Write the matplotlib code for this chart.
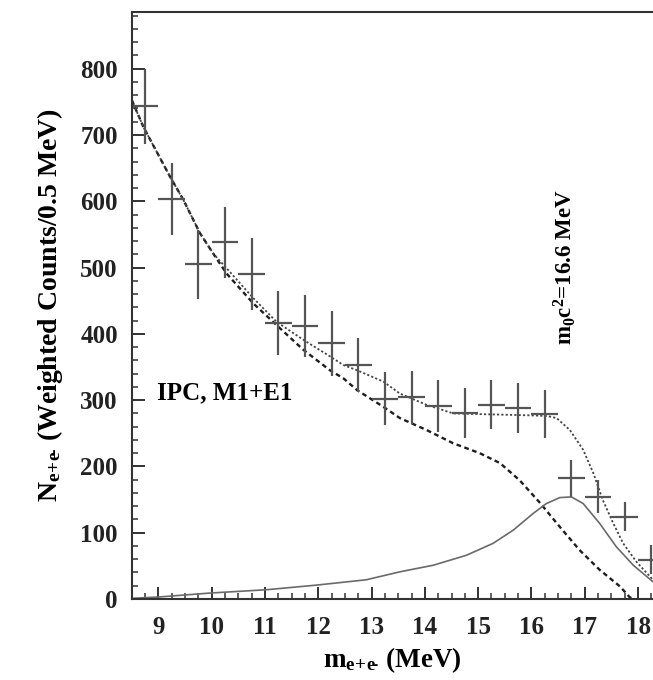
import numpy as np
import matplotlib
matplotlib.use('Agg')
import matplotlib.pyplot as plt
from matplotlib.ticker import MultipleLocator

plt.rcParams['font.family'] = ['Liberation Serif', 'DejaVu Serif']
plt.rcParams['font.weight'] = 'bold'
plt.rcParams['axes.labelweight'] = 'bold'
plt.rcParams['mathtext.fontset'] = 'custom'
plt.rcParams['mathtext.rm'] = 'Liberation Serif:bold'
plt.rcParams['mathtext.it'] = 'Liberation Serif:bold'
plt.rcParams['mathtext.bf'] = 'Liberation Serif:bold'

# data points (bin centres, weighted counts, errors)
m_bins = [8.75, 9.25, 9.75, 10.25, 10.75, 11.25, 11.75, 12.25, 12.75, 13.25,
          13.75, 14.25, 14.75, 15.25, 15.75, 16.25, 16.75, 17.25, 17.75, 18.25]
counts = [743, 603, 505, 538, 490, 416, 412, 386, 353, 302,
          304, 291, 281, 293, 288, 279, 182, 154, 124, 59]
errors = [56, 54, 52, 53, 54, 48, 47, 49, 40, 40,
          40, 39, 38, 37, 38, 36, 28, 25, 22, 22]

# IPC background (dashed)
ipc_x = [8.5, 8.72, 9.22, 9.47, 9.78, 10.03, 10.28, 10.78, 11.22, 11.72, 12.22,
         12.47, 12.73, 13.22, 13.53, 14.03, 14.53, 15.03, 15.41, 15.78, 16.16,
         16.53, 16.9, 17.28, 17.66, 17.84, 17.9]
ipc_y = [753, 712, 637, 602, 552, 521, 491, 446, 413, 376, 345,
         333, 315, 290, 273, 255, 235, 220, 205, 179, 145,
         109, 74, 44, 19, 3, 0]

# total fit IPC + boson (dotted)
tot_x = [8.5, 8.72, 9.22, 9.47, 9.78, 10.03, 10.28, 10.78, 11.22, 11.72, 12.22,
         12.47, 12.73, 13.22, 13.53, 14.03, 14.53, 15.0, 15.5, 16.0, 16.3,
         16.47, 16.72, 16.97, 17.16, 17.34, 17.53, 17.72, 17.97, 18.28]
tot_y = [753, 712, 637, 602, 552, 521, 499, 454, 418, 391, 366,
         353, 345, 328, 310, 293, 280, 279, 278, 277, 276,
         273, 255, 225, 190, 149, 115, 84, 56, 29]

# boson contribution (solid)
sig_x = [8.5, 9.0, 9.97, 11.03, 11.97, 12.9, 13.53, 14.16, 14.78, 15.28, 15.66,
         16.03, 16.28, 16.53, 16.75, 16.97, 17.28, 17.59, 17.91, 18.28]
sig_y = [1, 3, 9, 14, 21, 29, 41, 51, 66, 84, 104,
         129, 144, 153, 154, 144, 114, 79, 51, 26]

fig = plt.figure(figsize=(6.53, 6.8), dpi=100)
ax = fig.add_axes([0.2017, 0.1191, 0.7983, 0.8637])

ax.plot(ipc_x, ipc_y, color='#1e1e1e', lw=1.7, ls=(0, (2.0, 1.5)))
ax.plot(tot_x, tot_y, color='#444444', lw=1.3, ls=(0, (1.2, 1.2)))
ax.plot(sig_x, sig_y, color='#6a6a6a', lw=1.2, ls='-')
ax.errorbar(m_bins, counts, yerr=errors, xerr=0.25, fmt='none',
            ecolor='#555555', elinewidth=1.6, capsize=0)

ax.set_xlim(8.5, 18.28)
ax.set_ylim(0, 886)
ax.xaxis.set_major_locator(MultipleLocator(1))
ax.xaxis.set_minor_locator(MultipleLocator(0.25))
ax.yaxis.set_major_locator(MultipleLocator(100))
ax.yaxis.set_minor_locator(MultipleLocator(20))
ax.tick_params(which='major', direction='in', length=9, width=1.3,
               labelsize=18, colors='#222222', pad=10)
ax.tick_params(which='minor', direction='in', length=4.5, width=1.1, colors='#333333')
ax.tick_params(axis='x', which='major', pad=12)
ax.spines['right'].set_visible(False)
for s in ['left', 'top', 'bottom']:
    ax.spines[s].set_linewidth(1.5)
    ax.spines[s].set_color('#333333')

# compact "e+e-" subscript
sub = r'$_{\mathrm{e\!+\!e\!‐}}$'
ax.set_xlabel('m' + sub + ' (MeV)', fontsize=19.5, labelpad=5)
ax.set_ylabel('N' + sub + ' (Weighted Counts/0.5 MeV)', fontsize=20, labelpad=11)

ax.text(8.97, 311, 'IPC, M1+E1', fontsize=18, ha='left', va='center')
ax.text(16.62, 383, r'm$_0$c$^2$=16.6 MeV', fontsize=16.5, rotation=90,
        ha='center', va='bottom')

fig.savefig('out.png', dpi=100)
